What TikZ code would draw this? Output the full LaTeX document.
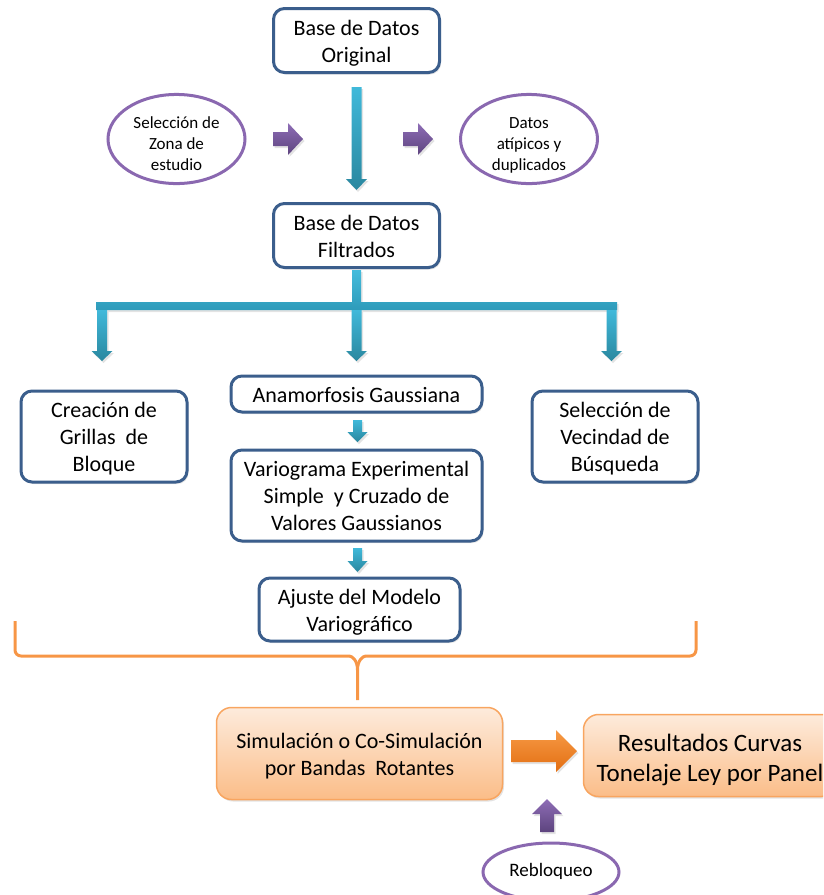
\documentclass[tikz,border=0pt]{standalone}
\usepackage{fontspec}
\setmainfont{Carlito}
\usetikzlibrary{shapes.geometric,shadows}
\definecolor{boxblue}{HTML}{3B5E8C}
\definecolor{arrowtop}{HTML}{40B9DA}
\definecolor{arrowbot}{HTML}{2A879F}
\definecolor{bartop}{HTML}{45BCDC}
\definecolor{barbot}{HTML}{2E9BBA}
\definecolor{purptop}{HTML}{8E6DB6}
\definecolor{purpbot}{HTML}{5D447E}
\definecolor{ellpurple}{HTML}{8A68B0}
\definecolor{bracecol}{HTML}{F79646}
\definecolor{orgtop}{HTML}{FDEBDC}
\definecolor{orgbot}{HTML}{FBBD88}
\definecolor{orgline}{HTML}{F8A560}
\definecolor{oarrtop}{HTML}{F79A45}
\definecolor{oarrbot}{HTML}{E26E12}
\newcommand\bigtxt{\fontsize{22}{27}\selectfont}
\newcommand\restxt{\fontsize{25}{30}\selectfont}
\newcommand\elltxt{\fontsize{17}{21}\selectfont}
\newcommand\rebtxt{\fontsize{19}{23}\selectfont}
\newcommand\lns[2][3pt]{\raisebox{-#1}[\height][\depth]{\begin{tabular}{@{}c@{}}#2\end{tabular}}}
\newcommand\dnarrow[6]{% cx, top, headbase, tip, shaft half, head half
  \shade[bluearrow] (#1-#5,#2) -- (#1+#5,#2) -- (#1+#5,#3) -- (#1+#6,#3) -- (#1,#4) -- (#1-#6,#3) -- (#1-#5,#3) -- cycle;}
\begin{document}
\begin{tikzpicture}[x=1pt,y=-1pt,
  softshadow/.style={drop shadow={opacity=0.22,shadow xshift=1.5pt,shadow yshift=-2pt}},
  bluebox/.style={draw=boxblue,line width=3pt,fill=white,rounded corners=11pt,
    align=center,font=\bigtxt,inner sep=0pt,softshadow},
  orangebox/.style={draw=orgline,line width=1.5pt,top color=orgtop,bottom color=orgbot,
    rounded corners=15pt,align=center,inner sep=0pt,softshadow},
  ellnode/.style={ellipse,draw=ellpurple,line width=3pt,fill=white,align=center,inner sep=0pt},
  bluearrow/.style={top color=arrowtop,bottom color=arrowbot,softshadow},
  barstyle/.style={top color=bartop,bottom color=barbot,softshadow},
  purparrow/.style={top color=purptop,bottom color=purpbot,softshadow},
  orgarrow/.style={top color=oarrtop,bottom color=oarrbot,softshadow},
  braceline/.style={draw=bracecol,line width=3pt,line join=round},
]
\useasboundingbox (0,0) rectangle (823,895);
\clip (0,0) rectangle (823,895);

% boxes
\node[bluebox,minimum width=166pt,minimum height=64pt] (orig) at (356.5,40.5) {\lns{Base de Datos\\Original}};
\node[bluebox,minimum width=166pt,minimum height=64pt] (filt) at (356.5,235.5) {\lns{Base de Datos\\Filtrados}};
\node[bluebox,minimum width=166pt,minimum height=91pt] (grid) at (104,436.5) {\lns{Creación de\\Grillas\ \ de\\Bloque}};
\node[bluebox,minimum width=251pt,minimum height=36pt] (anam) at (356.5,394) {\lns{Anamorfosis Gaussiana}};
\node[bluebox,minimum width=166pt,minimum height=91pt] (vecin) at (615,436.5) {\lns{Selección de\\Vecindad de\\Búsqueda}};
\node[bluebox,minimum width=251pt,minimum height=91pt] (vario) at (356.5,495.5) {\lns{Variograma Experimental\\Simple\ \ y Cruzado de\\Valores Gaussianos}};
\node[bluebox,minimum width=201pt,minimum height=63pt] (ajuste) at (359.5,609.5) {\lns{Ajuste del Modelo\\Variográfico}};

% ellipses
\node[ellnode,minimum width=137pt,minimum height=86pt,font=\elltxt] (zona) at (176.5,139) {\lns[6pt]{Selección de\\Zona de\\estudio}};
\node[ellnode,minimum width=137pt,minimum height=86pt,font=\elltxt] (atip) at (529,139) {\lns[6pt]{Datos\\atípicos y\\duplicados}};
\node[ellnode,minimum width=136pt,minimum height=58pt,font=\rebtxt] (rebl) at (551,872) {\lns[0pt]{Rebloqueo}};

% orange boxes
\node[orangebox,minimum width=286pt,minimum height=92pt,font=\bigtxt] (sim) at (359.5,753.5) {\lns{Simulación o Co-Simulación\\por Bandas\ \ Rotantes}};
\node[orangebox,minimum width=253pt,minimum height=82pt,font=\restxt] (res) at (710,755.5) {\lns[5pt]{Resultados Curvas\\Tonelaje Ley por Panel}};

% main blue arrow
\dnarrow{356.5}{87}{179}{190}{5}{10.5}

% tree connector
\shade[barstyle] (352,270) -- (361,270) -- (361,302) -- (617,302) -- (617,310) -- (96,310) -- (96,302) -- (352,302) -- cycle;
\dnarrow{102}{310}{351}{361}{5}{10.5}
\dnarrow{356.5}{310}{351}{361}{5}{10.5}
\dnarrow{611.5}{310}{351}{361}{5}{10.5}

% small blue arrows
\dnarrow{357.5}{420}{432}{442}{4.5}{10}
\dnarrow{357.5}{548}{561}{572}{4.5}{10}

% purple arrows
\shade[purparrow] (273,132) -- (288,132) -- (288,123) -- (303,139) -- (288,155) -- (288,146) -- (273,146) -- cycle;
\shade[purparrow] (403,132) -- (418,132) -- (418,123) -- (433,139) -- (418,155) -- (418,146) -- (403,146) -- cycle;
\shade[purparrow] (540,832) -- (540,814) -- (532,814) -- (547,799) -- (562,814) -- (554,814) -- (554,832) -- cycle;

% orange arrow
\shade[orgarrow] (511,740) -- (556,740) -- (556,730) -- (577,751) -- (556,772) -- (556,762) -- (511,762) -- cycle;

% brace
\coordinate (bl) at (15,621);
\coordinate (br) at (696,621);
\coordinate (bm) at (357.5,700);
\draw[braceline] (bl) [rounded corners=6pt] -- (15,656) -- (343,656) [sharp corners]
  .. controls (352,656) and (357.5,660) .. (357.5,670) -- (bm);
\draw[braceline] (br) [rounded corners=6pt] -- (696,656) -- (372,656) [sharp corners]
  .. controls (363,656) and (357.5,660) .. (357.5,670);
\end{tikzpicture}
\end{document}
